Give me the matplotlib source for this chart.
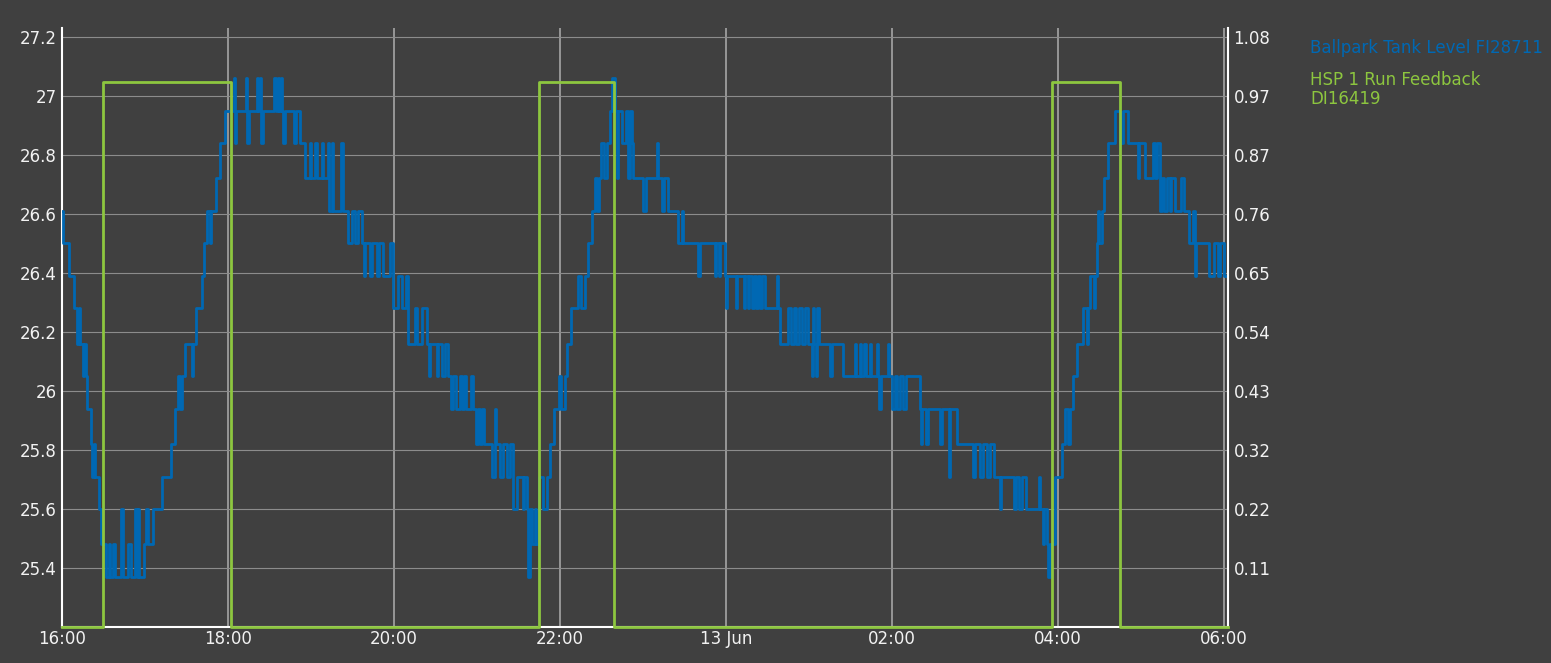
import matplotlib.pyplot as plt
from matplotlib.ticker import FuncFormatter

# Ballpark tank level, minutes after 16:00 (12 Jun), one list pair per pump cycle
cycle1_min = [0, 1, 5, 9, 11, 12, 13, 15, 16, 17,
              18, 21, 22, 23, 24, 27, 28, 32, 34, 35,
              37, 38, 43, 44, 48, 50, 53, 54, 55, 56,
              59, 61, 62, 66, 72, 79, 82, 84, 85, 87,
              89, 94, 95, 97, 101, 103, 105, 107, 108, 111,
              114, 118]
cycle1_lvl = [26.61, 26.50, 26.39, 26.28, 26.16, 26.28, 26.16, 26.05, 26.16, 26.05,
              25.94, 25.82, 25.71, 25.82, 25.71, 25.60, 25.48, 25.37, 25.48, 25.37,
              25.48, 25.37, 25.60, 25.37, 25.48, 25.37, 25.60, 25.37, 25.60, 25.37,
              25.48, 25.60, 25.48, 25.60, 25.71, 25.82, 25.94, 26.05, 25.94, 26.05,
              26.16, 26.05, 26.16, 26.28, 26.39, 26.50, 26.61, 26.50, 26.61, 26.72,
              26.84, 26.95]

cycle2_min = [124, 125, 126, 133, 134, 135, 141, 142, 143, 144,
              145, 153, 155, 156, 157, 158, 159, 160, 161, 168,
              169, 172, 176, 179, 180, 183, 184, 188, 189, 192,
              193, 195, 196, 202, 203, 207, 210, 212, 214, 217,
              218, 219, 223, 224, 228, 229, 232, 237, 239, 243,
              246, 249, 250, 255, 257, 260, 264, 265, 266, 271,
              272, 275, 277, 279, 281]
cycle2_lvl = [27.06, 26.84, 26.95, 27.06, 26.84, 26.95, 27.06, 26.95, 27.06, 26.84,
              26.95, 27.06, 26.95, 27.06, 26.95, 27.06, 26.95, 26.84, 26.95, 26.84,
              26.95, 26.84, 26.72, 26.84, 26.72, 26.84, 26.72, 26.84, 26.72, 26.84,
              26.61, 26.84, 26.61, 26.84, 26.61, 26.50, 26.61, 26.50, 26.61, 26.50,
              26.39, 26.50, 26.39, 26.50, 26.39, 26.50, 26.39, 26.50, 26.28, 26.39,
              26.28, 26.39, 26.16, 26.28, 26.16, 26.28, 26.16, 26.05, 26.16, 26.05,
              26.16, 26.05, 26.16, 26.05, 25.94]

cycle3_min = [283, 285, 288, 289, 291, 292, 296, 297, 299, 301,
              302, 304, 305, 311, 313, 314, 317, 319, 322, 324,
              326, 329, 333, 334, 336, 337, 338, 340, 342, 343,
              345, 348, 351, 353, 356, 359, 361, 364, 365, 368,
              373, 375, 378, 380, 383, 385, 387, 388, 390, 392,
              394, 396, 398, 400, 401, 402, 405, 408, 409, 411,
              412, 413, 420]
cycle3_lvl = [26.05, 25.94, 26.05, 25.94, 26.05, 25.94, 26.05, 25.94, 25.82, 25.94,
              25.82, 25.94, 25.82, 25.71, 25.94, 25.82, 25.71, 25.82, 25.71, 25.82,
              25.60, 25.71, 25.60, 25.71, 25.60, 25.37, 25.60, 25.48, 25.60, 25.48,
              25.71, 25.60, 25.71, 25.82, 25.94, 26.05, 25.94, 26.05, 26.16, 26.28,
              26.39, 26.28, 26.39, 26.50, 26.61, 26.72, 26.61, 26.72, 26.84, 26.72,
              26.84, 26.95, 27.06, 26.95, 26.72, 26.95, 26.84, 26.95, 26.72, 26.95,
              26.84, 26.72, 26.61]

cycle4_min = [422, 430, 431, 434, 435, 438, 445, 448, 449, 460,
              461, 472, 473, 475, 476, 479, 480, 481, 487, 488,
              493, 494, 496, 497, 499, 500, 502, 503, 505, 506,
              508, 517, 518, 519, 525, 527, 529, 531, 533, 535,
              537, 539, 542, 543, 544, 545, 546, 547, 555, 557]
cycle4_lvl = [26.72, 26.84, 26.72, 26.61, 26.72, 26.61, 26.50, 26.61, 26.50, 26.39,
              26.50, 26.39, 26.50, 26.39, 26.50, 26.39, 26.28, 26.39, 26.28, 26.39,
              26.28, 26.39, 26.28, 26.39, 26.28, 26.39, 26.28, 26.39, 26.28, 26.39,
              26.28, 26.39, 26.28, 26.16, 26.28, 26.16, 26.28, 26.16, 26.28, 26.16,
              26.28, 26.16, 26.05, 26.28, 26.16, 26.05, 26.28, 26.16, 26.05, 26.16]

cycle5_min = [565, 573, 574, 577, 578, 580, 581, 584, 585, 589,
              590, 591, 592, 597, 598, 600, 602, 604, 606, 608,
              610, 620, 621, 622, 625, 626, 635, 636, 641, 642,
              647, 659, 660, 664, 666, 669, 671, 674, 678, 679,
              688, 690, 692, 694, 697]
cycle5_lvl = [26.05, 26.16, 26.05, 26.16, 26.05, 26.16, 26.05, 26.16, 26.05, 26.16,
              26.05, 25.94, 26.05, 26.16, 26.05, 25.94, 26.05, 25.94, 26.05, 25.94,
              26.05, 25.94, 25.82, 25.94, 25.82, 25.94, 25.82, 25.94, 25.71, 25.94,
              25.82, 25.71, 25.82, 25.71, 25.82, 25.71, 25.82, 25.71, 25.60, 25.71,
              25.60, 25.71, 25.60, 25.71, 25.60]

cycle6_min = [706, 707, 709, 710, 712, 713, 714, 718, 723, 725,
              727, 729, 731, 734, 738, 741, 742, 743, 746, 747,
              748, 749, 750, 752, 753, 756, 761, 765, 767, 771,
              778, 779, 783, 789, 790, 792, 794, 795, 797, 799,
              801, 802, 805, 809, 811, 815, 818, 819, 820, 829,
              833, 836, 837, 840, 843]
cycle6_lvl = [25.71, 25.60, 25.48, 25.60, 25.48, 25.37, 25.48, 25.71, 25.82, 25.94,
              25.82, 25.94, 26.05, 26.16, 26.28, 26.16, 26.28, 26.39, 26.28, 26.39,
              26.50, 26.61, 26.50, 26.61, 26.72, 26.84, 26.95, 26.84, 26.95, 26.84,
              26.72, 26.84, 26.72, 26.84, 26.72, 26.84, 26.61, 26.72, 26.61, 26.72,
              26.61, 26.72, 26.61, 26.72, 26.61, 26.50, 26.61, 26.39, 26.50, 26.39,
              26.50, 26.39, 26.50, 26.39, 26.39]

# HSP 1 run feedback (0 = off, 1 = running)
pump_min = [0, 30, 122, 345, 399, 716, 765, 843]
pump_state = [0, 1, 0, 1, 0, 1, 0, 0]

time_ticks = [0, 120, 240, 360, 480, 600, 720, 840]
time_labels = ["16:00", "18:00", "20:00", "22:00", "13 Jun", "02:00", "04:00", "06:00"]
level_ticks = [25.4, 25.6, 25.8, 26.0, 26.2, 26.4, 26.6, 26.8, 27.0, 27.2]
run_ticks = [0.108, 0.216, 0.325, 0.433, 0.541, 0.649, 0.757, 0.866, 0.974, 1.082]
run_labels = ["0.11", "0.22", "0.32", "0.43", "0.54", "0.65", "0.76", "0.87", "0.97", "1.08"]

tank_min = cycle1_min + cycle2_min + cycle3_min + cycle4_min + cycle5_min + cycle6_min
tank_lvl = cycle1_lvl + cycle2_lvl + cycle3_lvl + cycle4_lvl + cycle5_lvl + cycle6_lvl

BG = "#404040"
BLUE = "#0068b3"
GREEN = "#8dc63f"
TXT = "#f2f2f2"

fig = plt.figure(figsize=(15.51, 6.63), dpi=100, facecolor=BG)
ax = fig.add_axes([62 / 1551, 36 / 663, 1166 / 1551, 599 / 663])
ax.set_facecolor(BG)
ax.set_xlim(0, 843)
ax.set_ylim(25.2, 27.23)

ax.plot(tank_min, tank_lvl, drawstyle="steps-post", color=BLUE, lw=2.0, zorder=3)

ax.set_xticks(time_ticks)
ax.set_xticklabels(time_labels)
ax.set_yticks(level_ticks)
ax.yaxis.set_major_formatter(FuncFormatter(lambda v, p: "%g" % round(v, 1)))
ax.set_axisbelow(True)
ax.yaxis.grid(True, color="#8c8c8c", lw=0.8)
ax.xaxis.grid(True, color="#a6a6a6", lw=1.2)
ax.tick_params(length=0, labelcolor=TXT, labelsize=12)
ax.tick_params(axis="y", pad=4)
ax.tick_params(axis="x", pad=2)
for side in ["top", "right"]:
    ax.spines[side].set_visible(False)
for side in ["left", "bottom"]:
    ax.spines[side].set_color("white")
    ax.spines[side].set_linewidth(1.5)

ax2 = ax.twinx()
ax2.set_ylim(0, 1.099)
ax2.plot(pump_min, pump_state, drawstyle="steps-post", color=GREEN, lw=2.0,
         clip_on=False, zorder=4)
ax2.set_yticks(run_ticks)
ax2.set_yticklabels(run_labels)
ax2.tick_params(length=0, labelcolor=TXT, labelsize=12, pad=4)
for side in ["top", "left", "bottom"]:
    ax2.spines[side].set_visible(False)
ax2.spines["right"].set_color("white")
ax2.spines["right"].set_linewidth(1.5)

fig.text(1310 / 1551, 1 - 48 / 663, "Ballpark Tank Level FI28711", color=BLUE,
         fontsize=12, va="center", ha="left")
fig.text(1310 / 1551, 1 - 89.5 / 663, "HSP 1 Run Feedback\nDI16419", color=GREEN,
         fontsize=12, va="center", ha="left", linespacing=1.1)

fig.savefig("out.png", dpi=100, facecolor=BG)
